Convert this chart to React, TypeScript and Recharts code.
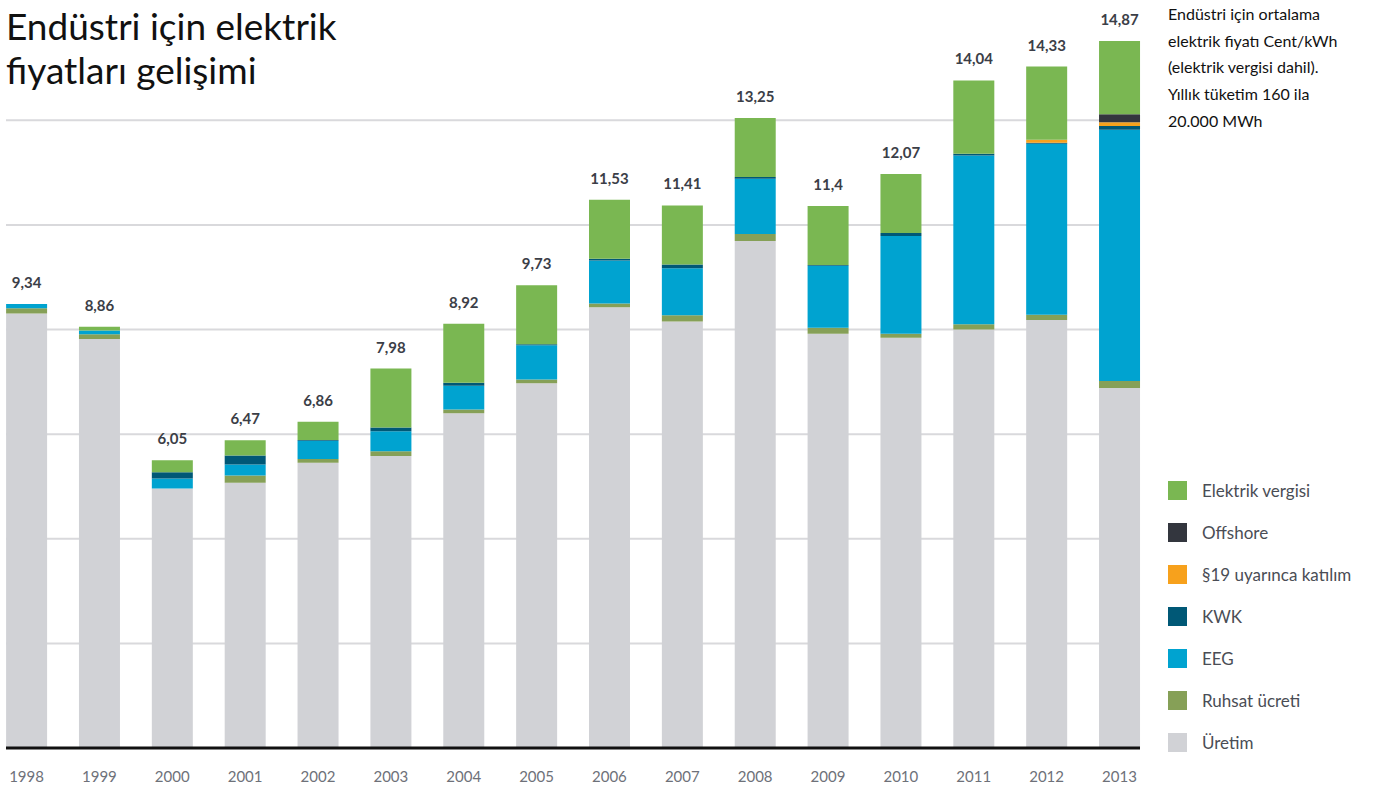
import { BarChart, Bar, XAxis, YAxis, CartesianGrid, LabelList } from "recharts";

const years = ["1998", "1999", "2000", "2001", "2002", "2003", "2004", "2005", "2006", "2007", "2008", "2009", "2010", "2011", "2012", "2013"];
const uretim = [9.14, 8.6, 5.46, 5.58, 6.0, 6.14, 7.04, 7.67, 9.27, 8.97, 10.66, 8.71, 8.63, 8.8, 9.0, 7.57];
const ruhsat = [0.11, 0.1, 0, 0.15, 0.08, 0.1, 0.08, 0.08, 0.08, 0.13, 0.15, 0.13, 0.08, 0.11, 0.11, 0.15];
const eeg = [0.09, 0.08, 0.21, 0.23, 0.38, 0.42, 0.5, 0.72, 0.9, 0.99, 1.16, 1.3, 2.06, 3.55, 3.6, 5.28];
const kwk = [0, 0, 0.13, 0.19, 0.02, 0.08, 0.06, 0.02, 0.04, 0.08, 0.04, 0.02, 0.06, 0.04, 0.02, 0.08];
const par19 = [0, 0, 0, 0, 0, 0, 0, 0, 0, 0, 0, 0, 0, 0, 0.06, 0.08];
const offshore = [0, 0, 0, 0, 0, 0, 0, 0, 0, 0, 0, 0, 0, 0, 0, 0.17];
const vergi = [0, 0.08, 0.25, 0.32, 0.38, 1.24, 1.24, 1.24, 1.24, 1.24, 1.24, 1.24, 1.24, 1.54, 1.54, 1.54];
const totals = [9.34, 8.86, 6.05, 6.47, 6.86, 7.98, 8.92, 9.73, 11.53, 11.41, 13.25, 11.4, 12.07, 14.04, 14.33, 14.87];
const gridTicks = [0, 2.2, 4.4, 6.6, 8.8, 11, 13.2];
const yMax = 15;

const data = years.map((year, i) => ({
  year,
  uretim: uretim[i],
  ruhsat: ruhsat[i],
  eeg: eeg[i],
  kwk: kwk[i],
  par19: par19[i],
  offshore: offshore[i],
  vergi: vergi[i],
  total: totals[i],
}));

const series = [
  { key: "uretim", name: "Üretim", color: "#d1d2d6" },
  { key: "ruhsat", name: "Ruhsat ücreti", color: "#86a057" },
  { key: "eeg", name: "EEG", color: "#00a3d0" },
  { key: "kwk", name: "KWK", color: "#005876" },
  { key: "par19", name: "§19 uyarınca katılım", color: "#f7a11c" },
  { key: "offshore", name: "Offshore", color: "#33363e" },
  { key: "vergi", name: "Elektrik vergisi", color: "#7ab752" },
];

const font = "Lato, 'Open Sans', sans-serif";

// total label drawn from the bottom (Üretim) segment, which always has height
const TotalLabel = (props: any) => {
  const { x, y, width, height, index } = props;
  const perUnit = height / uretim[index];
  const topY = y + height - totals[index] * perUnit;
  return (
    <text
      x={x + width / 2}
      y={topY - 16}
      textAnchor="middle"
      style={{ fontSize: 15, fontWeight: 700, fill: "#3b3e47", fontFamily: font }}
    >
      {String(totals[index]).replace(".", ",")}
    </text>
  );
};

export default function App() {
  return (
    <div style={{ position: "absolute", left: 0, top: 0, width: 1373, height: 789, fontFamily: font, background: "#fff" }}>
      <div style={{ position: "absolute", left: 6, top: 4, fontSize: 37, lineHeight: "44px", color: "#111" }}>
        Endüstri için elektrik
        <br />
        fiyatları gelişimi
      </div>
      <div style={{ position: "absolute", left: 1168, top: 1, fontSize: 16, lineHeight: "26.7px", color: "#111", fontWeight: 400 }}>
        Endüstri için ortalama
        <br />
        elektrik fiyatı Cent/kWh
        <br />
        (elektrik vergisi dahil).
        <br />
        Yıllık tüketim 160 ila
        <br />
        20.000 MWh
      </div>
      <div style={{ position: "absolute", left: 1168, top: 469 }}>
        {[...series].reverse().map((s) => (
          <div key={s.key} style={{ display: "flex", alignItems: "center", height: 42 }}>
            <div style={{ width: 19, height: 19, background: s.color, marginRight: 15 }} />
            <span style={{ fontSize: 17, color: "#4a4d55" }}>{s.name}</span>
          </div>
        ))}
      </div>
      <BarChart
        width={1373}
        height={789}
        data={data}
        margin={{ top: 34.75, right: 233, bottom: 11, left: 6 }}
        barSize={41}
        style={{ position: "absolute", left: 0, top: 0 }}
      >
        <CartesianGrid
          vertical={false}
          stroke="#d9d9dc"
          strokeWidth={2}
          horizontalCoordinatesGenerator={({ offset }: any) =>
            gridTicks.map((t) => offset.top + offset.height - (t / yMax) * offset.height)
          }
        />
        <XAxis
          dataKey="year"
          padding={{ left: -15.9, right: -15.9 }}
          axisLine={{ stroke: "#111", strokeWidth: 3 }}
          tickLine={false}
          tickSize={0}
          tickMargin={23}
          height={30}
          tick={{ fontSize: 15, fill: "#6e7179", fontFamily: font }}
        />
        <YAxis hide domain={[0, yMax]} ticks={gridTicks} />
        {series.map((s) => (
          <Bar key={s.key} dataKey={s.key} name={s.name} stackId="a" fill={s.color} isAnimationActive={false}>
            {s.key === "uretim" && <LabelList dataKey="total" content={TotalLabel} />}
          </Bar>
        ))}
      </BarChart>
    </div>
  );
}
